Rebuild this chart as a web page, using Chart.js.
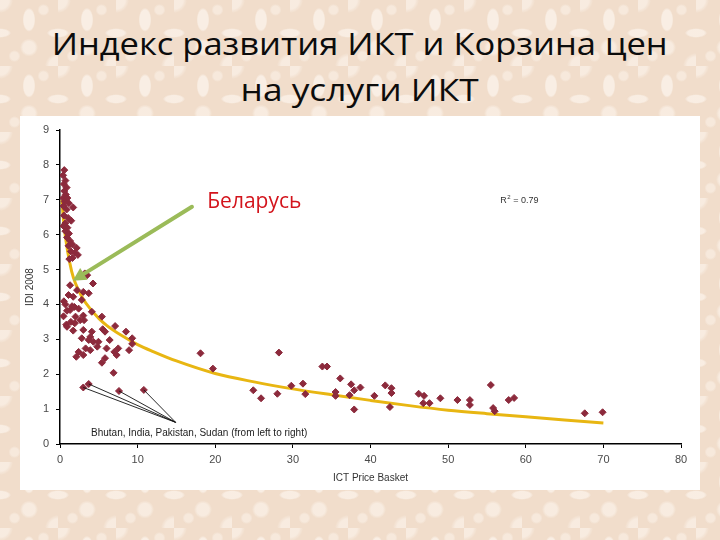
<!DOCTYPE html>
<html>
<head>
<meta charset="utf-8">
<script src="https://cdn.jsdelivr.net/npm/chart.js@4.4.1/dist/chart.umd.min.js"></script>
<style>
html, body { margin: 0; padding: 0; }
body {
    width: 720px; height: 540px; overflow: hidden; position: relative;
    background-color: #F1DDCB;
    background-image:
        radial-gradient(ellipse 8px 15px at 50% 30%, rgba(255,250,245,0.6) 65%, transparent 80%),
        radial-gradient(circle at 50% 72%, rgba(255,250,245,0.5) 6px, transparent 9px),
        radial-gradient(ellipse 14px 6px at 0% 50%, rgba(255,250,245,0.55) 60%, transparent 80%),
        radial-gradient(ellipse 14px 6px at 100% 50%, rgba(255,250,245,0.55) 60%, transparent 80%),
        radial-gradient(circle at 0% 0%, rgba(255,250,245,0.5) 9px, transparent 13px),
        radial-gradient(circle at 100% 100%, rgba(255,250,245,0.5) 9px, transparent 13px),
        radial-gradient(circle at 25% 85%, rgba(255,250,245,0.4) 4px, transparent 6px),
        radial-gradient(circle at 75% 15%, rgba(255,250,245,0.4) 4px, transparent 6px);
    background-size: 58px 66px;
}
.title {
    position: absolute; left: 0; width: 720px; text-align: center;
    font-family: "Open Sans", sans-serif; font-size: 31px; line-height: 32px;
    color: #0c0c0c; white-space: nowrap;
}
.title span { display: inline-block; transform-origin: 50% 50%; }
#box { position: absolute; left: 20px; top: 116px; width: 680px; height: 374px; background: #fff; }
#c { display: block; }
</style>
</head>
<body>
<div class="title" id="t1" style="top:27px"><span>Индекс развития ИКТ и Корзина цен</span></div>
<div class="title" id="t2" style="top:73px"><span>на услуги ИКТ</span></div>
<div id="box"><canvas id="c" width="680" height="374"></canvas></div>
<script>
// ICT price basket (x) and IDI 2008 (y)
const priceBasket = [
    0.55, 0.4, 0.7, 0.5, 0.85, 0.55, 0.75, 0.4, 0.95, 0.6, 1.15, 1.7, 0.45, 0.85, 0.5, 1.05,
    1.45, 0.7, 0.45, 0.95, 0.7, 1.15, 0.9, 1.3, 1.1, 1.6, 2.15, 1.4, 1.9, 2.3, 1.6, 1.2,
    3.2, 3.5, 1.3, 4.25, 2.2, 3.0, 3.7, 1.1, 1.7, 2.8, 0.5, 0.7, 1.55, 1.85, 2.4, 0.9, 4.1, 1.3, 0.45, 2.0,
    3.0, 3.1, 5.4, 1.4, 2.6, 0.8, 0.9, 1.9, 1.7, 3.0, 4.1, 5.5, 5.8, 7.1, 8.5, 2.8, 3.9, 3.7, 4.3, 4.95,
    6.4, 9.3, 9.3, 4.8, 3.3, 6.0, 7.5, 8.9, 2.4, 3.9, 7.0, 7.3, 3.0, 2.1, 5.8, 5.4, 6.9,
    3.0, 3.7, 7.6, 10.8,
    18.1, 19.7, 28.2, 24.9, 25.9, 28.0, 29.8, 31.3, 31.6, 33.8, 34.4, 35.5, 35.5, 36.1, 37.5, 37.3,
    37.9, 38.7, 37.9, 40.5, 41.9, 42.7, 42.7, 42.5, 46.2, 46.9, 46.8, 47.6, 49.0, 51.2, 52.8, 52.8,
    55.5, 55.8, 56.0, 57.8, 58.5, 67.6, 69.9
];
const idi2008 = [
    7.85, 7.7, 7.55, 7.45, 7.35, 7.25, 7.15, 7.05, 7.05, 6.95, 6.9, 6.78, 6.82, 6.72, 6.55, 6.48,
    6.4, 6.33, 6.25, 6.2, 6.1, 6.03, 5.92, 5.82, 5.68, 5.72, 5.62, 5.52, 5.48, 5.42, 5.33, 5.3,
    4.89, 4.84, 4.55, 4.6, 4.41, 4.36, 4.32, 4.27, 4.22, 4.13, 4.09, 4.0, 3.95, 3.93, 3.88, 3.82, 3.79, 3.84, 3.66, 3.65,
    3.68, 3.55, 3.65, 3.5, 3.55, 3.42, 3.36, 3.46, 3.25, 3.27, 3.22, 3.29, 3.22, 3.38, 3.22, 3.03, 3.07, 2.98, 2.93, 2.93,
    2.98, 3.03, 2.87, 2.79, 2.74, 2.74, 2.74, 2.69, 2.64, 2.69, 2.64, 2.55, 2.55, 2.5, 2.46, 2.33, 2.04,
    1.62, 1.72, 1.52, 1.55,
    2.6, 2.16, 2.62, 1.54, 1.31, 1.44, 1.67, 1.73, 1.43, 2.22, 2.22, 1.49, 1.38, 1.88, 1.71, 1.40,
    1.54, 1.62, 0.99, 1.38, 1.68, 1.60, 1.46, 1.06, 1.44, 1.38, 1.17, 1.17, 1.31, 1.26, 1.26, 1.12,
    1.69, 1.03, 0.94, 1.26, 1.32, 0.88, 0.91
];

// trend line
const trendX = [0.25, 0.5, 1, 1.5, 2, 3, 4, 5, 6, 8, 10, 12, 15, 20, 25, 30, 35, 40, 45, 50, 55, 60, 65, 70];
const trendY = [7.0, 6.3, 5.5, 4.95, 4.6, 4.15, 3.85, 3.6, 3.4, 3.1, 2.85, 2.65, 2.38, 2.02, 1.78, 1.58, 1.41, 1.25, 1.1, 0.97, 0.87, 0.78, 0.69, 0.6];

// Bhutan, India, Pakistan, Sudan and where their leader lines meet
const leaderFromX = [3.0, 3.7, 7.6, 10.8];
const leaderFromY = [1.62, 1.72, 1.52, 1.55];
const leaderTo = [14.9, 0.62];

function fitTitle(id, target) {
    const span = document.querySelector('#' + id + ' span');
    const w = span.getBoundingClientRect().width;
    span.style.transform = `scaleX(${target / w})`;
}
fitTitle('t1', 616);
fitTitle('t2', 238);

const notes = {
    id: 'notes',
    afterDatasetsDraw(chart) {
        const { ctx, scales: { x, y } } = chart;
        const px = v => x.getPixelForValue(v);
        const py = v => y.getPixelForValue(v);
        ctx.save();

        // leader lines
        ctx.strokeStyle = '#111';
        ctx.lineWidth = 0.9;
        leaderFromX.forEach((lx, i) => {
            ctx.beginPath();
            ctx.moveTo(px(lx), py(leaderFromY[i]));
            ctx.lineTo(px(leaderTo[0]), py(leaderTo[1]));
            ctx.stroke();
        });

        ctx.fillStyle = '#222';
        ctx.font = '10px "Liberation Sans", Arial, sans-serif';
        ctx.textBaseline = 'middle';
        ctx.textAlign = 'left';
        ctx.fillText('Bhutan, India, Pakistan, Sudan (from left to right)', px(4.0), py(0.315));

        // R squared
        const rx = px(56.7), ry = py(6.99);
        ctx.font = '9px "Liberation Sans", Arial, sans-serif';
        ctx.fillStyle = '#333';
        ctx.fillText('R', rx, ry);
        const rw = ctx.measureText('R').width;
        ctx.font = '6px "Liberation Sans", Arial, sans-serif';
        ctx.fillText('2', rx + rw + 0.5, ry - 3);
        ctx.font = '9px "Liberation Sans", Arial, sans-serif';
        ctx.fillText(' = 0.79', rx + rw + 4, ry);

        // Belarus label
        ctx.font = '21px "Open Sans", sans-serif';
        ctx.fillStyle = '#D3141C';
        ctx.textBaseline = 'alphabetic';
        ctx.fillText('Беларусь', px(18.97), py(6.76));

        // green arrow
        const x0 = px(17.0), y0 = py(6.8), x1 = px(1.65), y1 = py(4.68);
        const ang = Math.atan2(y1 - y0, x1 - x0);
        const headLen = 13, headW = 7;
        const bx = x1 - Math.cos(ang) * headLen, by = y1 - Math.sin(ang) * headLen;
        ctx.strokeStyle = '#9BBB59';
        ctx.fillStyle = '#9BBB59';
        ctx.lineWidth = 4;
        ctx.lineCap = 'round';
        ctx.beginPath();
        ctx.moveTo(x0, y0);
        ctx.lineTo(bx, by);
        ctx.stroke();
        ctx.beginPath();
        ctx.moveTo(x1, y1);
        ctx.lineTo(bx + Math.sin(ang) * headW, by - Math.cos(ang) * headW);
        ctx.lineTo(bx - Math.sin(ang) * headW, by + Math.cos(ang) * headW);
        ctx.closePath();
        ctx.fill();

        ctx.restore();
    }
};

const tickFont = { family: '"Liberation Sans", Arial, sans-serif', size: 11 };
const titleFont = { family: '"Liberation Sans", Arial, sans-serif', size: 10 };

new Chart(document.getElementById('c'), {
    type: 'scatter',
    data: {
        datasets: [{
            label: 'IDI 2008',
            data: priceBasket.map((v, i) => ({ x: v, y: idi2008[i] })),
            pointStyle: 'rectRot',
            pointRadius: 3.5,
            backgroundColor: '#8C2A3C',
            borderColor: '#8C2A3C',
            borderWidth: 1,
            order: 1
        }, {
            type: 'line',
            label: 'Trend',
            data: trendX.map((v, i) => ({ x: v, y: trendY[i] })),
            borderColor: 'rgb(232,182,18)',
            borderWidth: 3,
            pointRadius: 0,
            cubicInterpolationMode: 'monotone',
            fill: false,
            order: 2
        }]
    },
    options: {
        responsive: false,
        animation: false,
        layout: { padding: { top: 14, right: 19, left: 0, bottom: 0 } },
        plugins: {
            legend: { display: false },
            tooltip: { enabled: false }
        },
        scales: {
            x: {
                type: 'linear', min: 0, max: 80,
                afterFit: s => { s.height = 46; },
                border: { color: '#000', width: 1.5 },
                grid: { drawOnChartArea: false, tickLength: 4, tickColor: '#000' },
                ticks: { stepSize: 10, padding: 5, color: '#4a4a4a', font: tickFont },
                title: { display: true, text: 'ICT Price Basket', color: '#333', font: titleFont, padding: { top: 0, bottom: 5.5 } }
            },
            y: {
                type: 'linear', min: 0, max: 9,
                afterFit: s => { s.width = 40; },
                border: { color: '#000', width: 1.5 },
                grid: { drawOnChartArea: false, tickLength: 4, tickColor: '#000' },
                ticks: { stepSize: 1, padding: 7, color: '#4a4a4a', font: tickFont },
                title: { display: true, text: 'IDI 2008', color: '#333', font: titleFont, padding: { top: 4, bottom: 0 } }
            }
        }
    },
    plugins: [notes]
});
</script>
</body>
</html>
